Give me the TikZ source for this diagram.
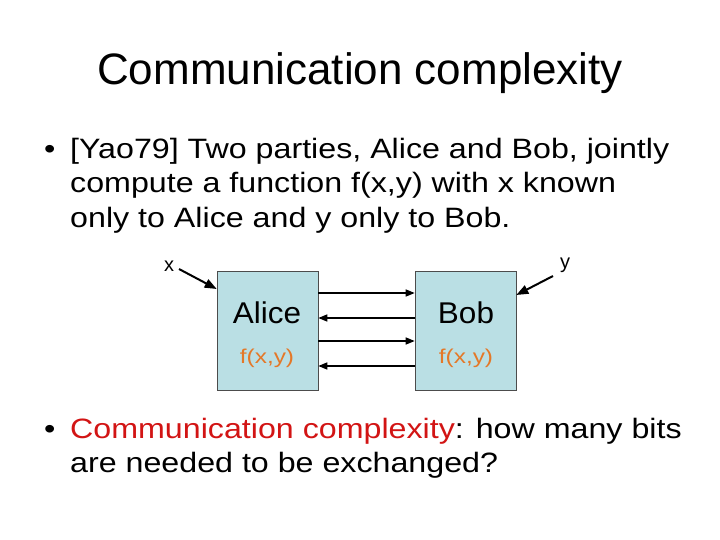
\documentclass[tikz,border=0pt]{standalone}
\usepackage{fontspec}
\setmainfont{Liberation Sans}
\newfontfamily\bodyfont[FakeStretch=1.15]{Liberation Sans}
\newfontfamily\partyfont[FakeStretch=1.05]{Liberation Sans}
\newfontfamily\smallfont[FakeStretch=1.22]{Liberation Sans}
\usetikzlibrary{arrows.meta}
\definecolor{boxfill}{RGB}{186,223,228}
\definecolor{fcol}{RGB}{228,120,40}
\definecolor{hred}{RGB}{210,20,20}
\tikzset{
  party/.style={draw=black!70, line width=0.6pt, fill=boxfill, minimum width=101pt, minimum height=119pt, inner sep=0pt},
  msg/.style={-{Triangle[length=9pt,width=7pt]}, line width=1.5pt},
  inarrow/.style={-{Triangle[length=12pt,width=9pt]}, line width=2pt},
  body/.style={font=\bodyfont\fontsize{28}{34}\selectfont, anchor=base west, inner sep=0pt},
}
\begin{document}
\begin{tikzpicture}[x=1pt,y=-1pt]
\useasboundingbox (0,0) rectangle (720,540);
\node[font=\fontsize{44}{50}\selectfont, anchor=base] (title) at (360,85) {Communication complexity};
\node[body] (b1) at (44,159) {•};
\node[body] (l1) at (70,159) {[Yao79] Two parties, Alice and Bob, jointly};
\node[body] (l2) at (70,193) {compute a function f(x,y) with x known};
\node[body] (l3) at (70,227) {only to Alice and y only to Bob.};
\node[party] (alice) at (267.5,330.5) {};
\node[party] (bob) at (465.5,330.5) {};
\node[font=\partyfont\fontsize{30}{34}\selectfont] (an) at (267,313) {Alice};
\node[font=\partyfont\fontsize{30}{34}\selectfont] (bn) at (466,313) {Bob};
\node[font=\smallfont\fontsize{20}{24}\selectfont, text=fcol] (af) at (267,358) {f(x,y)};
\node[font=\smallfont\fontsize{20}{24}\selectfont, text=fcol] (bf) at (466,358) {f(x,y)};
\node[font=\fontsize{20}{24}\selectfont] (xl) at (169,266) {x};
\node[font=\fontsize{20}{24}\selectfont] (yl) at (565,265) {y};
\draw[inarrow] (179,269) -- (alice.north west |- 0,289) ;
\draw[inarrow] (553,276) -- (bob.north east |- 0,295);
\draw[msg] (alice.east |- 0,293) -- (bob.west |- 0,293);
\draw[msg] (bob.west |- 0,318) -- (alice.east |- 0,318);
\draw[msg] (alice.east |- 0,341) -- (bob.west |- 0,341);
\draw[msg] (bob.west |- 0,366) -- (alice.east |- 0,366);
\node[body] (b2) at (44,438) {•};
\node[body] (l4) at (70,438) {\textcolor{hred}{Communication complexity}: how many bits};
\node[body] (l5) at (70,472) {are needed to be exchanged?};
\end{tikzpicture}
\end{document}
